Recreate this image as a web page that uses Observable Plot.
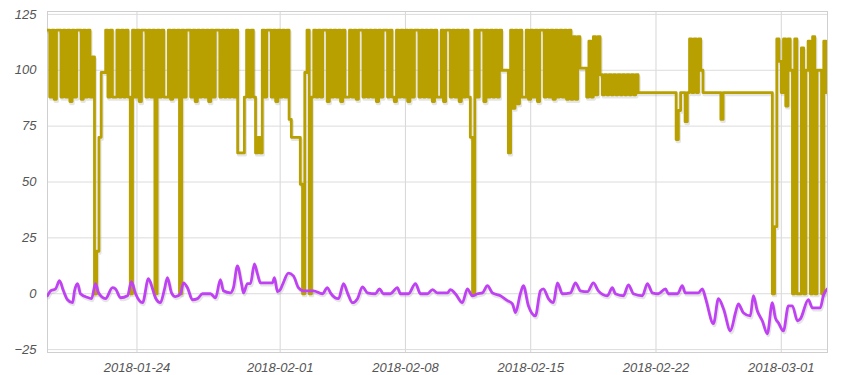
<!DOCTYPE html>
<html>
<head>
<meta charset="utf-8">
<script src="https://cdn.jsdelivr.net/npm/d3@7"></script>
<script src="https://cdn.jsdelivr.net/npm/@observablehq/plot@0.6"></script>
<style>
  html, body { margin: 0; padding: 0; background: #fff; }
</style>
</head>
<body>
<div id="chart"></div>
<script>
// ---- Data ----
const seriesStart = "2018-01-19T00:00:00";
const seriesEnd = "2018-03-03T14:00:00";
const goldStepHours = 3;

// Gold series: one row per day, 8 readings per day (every 3 hours)
const goldByDay = [
  [118,88,118,87,118,118,88,118],  // 01-19
  [88,118,86,118,88,118,118,87],   // 01-20
  [118,88,118,88,106,0,19,70],     // 01-21
  [99,99,118,88,118,88,88,118],    // 01-22
  [88,118,88,118,88,0,118,88],     // 01-23
  [118,86,118,118,88,118,88,118],  // 01-24
  [0,118,88,118,88,88,118,87],     // 01-25
  [118,88,118,0,118,88,118,118],   // 01-26
  [88,118,86,118,88,118,88,118],   // 01-27
  [86,118,88,118,118,88,118,88],   // 01-28
  [118,88,118,88,118,63,63,63],    // 01-29
  [88,118,88,118,88,63,70,63],     // 01-30
  [118,88,118,118,88,118,86,118],  // 01-31
  [88,118,88,118,78,70,70,70],     // 02-01
  [70,49,0,99,118,0,88,118],       // 02-02
  [88,118,88,118,118,86,118,88],   // 02-03
  [118,88,118,86,118,88,88,118],   // 02-04
  [88,118,87,118,118,88,118,88],   // 02-05
  [118,88,118,86,118,88,118,118],  // 02-06
  [88,118,88,86,118,88,118,88],    // 02-07
  [118,86,118,88,118,118,88,118],  // 02-08
  [88,118,88,118,86,118,88,88],    // 02-09
  [118,86,118,118,88,118,88,118],  // 02-10
  [86,118,88,118,88,70,0,118],     // 02-11
  [88,118,118,86,118,88,118,88],   // 02-12
  [118,88,118,100,100,100,63,118], // 02-13
  [83,118,85,118,88,88,118,87],    // 02-14
  [118,88,118,86,118,118,88,118],  // 02-15
  [88,118,87,118,88,118,88,118],   // 02-16
  [87,118,87,115,87,115,101,101],  // 02-17
  [101,88,113,88,115,89,115,98],   // 02-18
  [89,98,89,98,89,98,89,98],       // 02-19
  [89,98,89,98,89,98,89,98],       // 02-20
  [90,90,90,90,90,90,90,90],       // 02-21
  [90,90,90,90,90,90,90,90],       // 02-22
  [90,69,82,90,90,77,90,114],      // 02-23
  [90,114,90,114,100,90,90,90],    // 02-24
  [90,90,90,90,90,78,90,90],       // 02-25
  [90,90,90,90,90,90,90,90],       // 02-26
  [90,90,90,90,90,90,90,90],       // 02-27
  [90,90,90,90,0,30,114,104],      // 02-28
  [90,114,84,114,100,0,114,0],     // 03-01
  [0,110,0,100,113,0,115,0],       // 03-02
  [100,100,0,113,90,90]            // 03-03
];

// Purple series: day offset from 2018-01-19 and value
const purpleDay = [
  0.00,0.17,0.45,0.67,0.89,1.12,1.40,1.51,1.68,1.84,2.29,2.46,2.68,2.85,3.24,3.63,3.80,4.08,4.47,4.69,
  4.92,5.31,5.64,5.87,6.03,6.31,6.54,6.70,6.93,7.15,7.43,7.60,7.82,8.10,8.38,8.66,9.11,9.39,9.66,9.83,
  10.22,10.39,10.61,10.84,10.95,11.17,11.34,11.56,11.73,11.90,12.57,12.68,12.85,13.02,13.18,13.46,13.74,14.02,14.30,14.86,
  15.36,15.64,15.81,16.26,16.54,16.76,17.04,17.32,17.60,17.88,18.32,18.55,18.77,19.16,19.55,19.72,20.17,20.56,20.84,21.23,
  21.51,21.79,22.35,22.51,22.79,23.18,23.46,23.74,24.02,24.30,24.58,24.86,25.31,25.70,25.98,26.15,26.42,26.59,26.87,27.26,
  27.54,27.71,27.99,28.27,28.49,28.77,29.22,29.50,29.78,30.17,30.50,30.78,31.28,31.56,31.73,32.18,32.46,32.74,33.24,33.52,
  33.80,34.13,34.53,34.69,35.20,35.47,35.64,36.37,36.59,36.76,37.21,37.49,37.77,38.16,38.44,38.60,38.88,39.27,39.44,39.66,
  39.94,40.22,40.50,40.67,40.84,41.12,41.40,41.62,41.90,42.07,42.51,42.74,43.18,43.35,43.58
];
const purpleValue = [
  -0.9,1.3,2.2,5.8,1.3,-2.7,-4.0,1.3,4.5,0.0,-1.8,-2.2,4.5,0.4,-2.2,2.7,2.2,-1.8,-0.9,5.4,
  0.0,-4.0,6.7,2.2,-1.8,-4.0,2.2,7.2,0.4,-1.3,0.0,4.9,2.7,-2.7,-2.2,0.0,0.0,-1.8,6.3,1.3,
  0.4,2.7,12.5,4.5,0.4,4.5,4.5,13.4,8.9,4.9,4.9,7.2,0.9,2.0,5.0,9.2,8.0,2.7,1.3,1.3,
  0.0,2.7,0.4,-2.2,4.5,0.4,-4.0,-2.2,3.1,0.4,0.0,2.2,0.0,0.0,2.7,0.0,0.0,4.5,0.0,0.0,
  1.8,0.4,0.4,1.8,0.0,-4.0,2.2,-0.9,0.0,0.4,3.6,0.4,-0.9,-3.1,-4.5,-8.5,0.0,3.6,-5.4,-9.9,
  1.3,2.2,-2.2,-4.0,4.9,0.0,0.4,4.9,1.3,0.9,4.9,1.3,-0.9,2.7,0.0,-0.9,4.0,0.0,-0.9,4.5,
  0.4,0.0,2.2,0.0,0.0,3.6,0.4,0.4,2.2,-1.8,-13.4,-2.2,-6.7,-16.6,-8.5,-4.5,-8.5,-9.9,-0.9,-7.6,
  -12.1,-17.9,-4.0,-10.8,-13.0,-16.6,-5.4,-5.4,-12.1,-11.2,-2.7,-6.3,-6.3,-0.9,2.2
];

const xTickLabels = ["2018-01-24","2018-02-01","2018-02-08","2018-02-15","2018-02-22","2018-03-01"];
const yTickValues = [-25, 0, 25, 50, 75, 100, 125];

const goldColor = "#b8a000";
const purpleColor = "#c040f4";

// ---- Build tables ----
const t0 = new Date(seriesStart).getTime();
const gold = goldByDay.flat().map((v, i) => ({date: new Date(t0 + i * goldStepHours * 3600e3), value: v}));
const purple = purpleDay.map((d, i) => ({date: new Date(t0 + d * 864e5), value: purpleValue[i]}));
const xTicks = xTickLabels.map(s => new Date(s + "T00:00:00"));

const chart = Plot.plot({
  width: 850,
  height: 375,
  marginLeft: 47,
  marginRight: 23,
  marginTop: 11,
  marginBottom: 23,
  style: {
    fontFamily: "'Liberation Sans', Arial, sans-serif",
    fontSize: "13px",
    fontStyle: "italic",
    color: "#555",
    background: "#fff"
  },
  x: {type: "time", domain: [new Date(seriesStart), new Date(seriesEnd)]},
  y: {domain: [-26.3, 126.3]},
  marks: [
    Plot.gridX(xTicks, {stroke: "#d6d6d6", strokeOpacity: 1}),
    Plot.gridY(yTickValues, {stroke: "#dcdcdc", strokeOpacity: 1}),
    Plot.frame({stroke: "#cfcfcf"}),
    Plot.axisX(xTicks, {tickSize: 0, tickPadding: 10, tickFormat: d3.timeFormat("%Y-%m-%d"), label: null, fill: "#555"}),
    Plot.axisY(yTickValues, {tickSize: 0, tickPadding: 11, label: null, fill: "#555"}),
    // soft shadows
    Plot.line(gold, {x: "date", y: "value", curve: "step-after", stroke: "#888", strokeOpacity: 0.22, strokeWidth: 3.2, dx: 1, dy: 2, clip: true}),
    Plot.line(purple, {x: "date", y: "value", curve: "monotone-x", stroke: "#888", strokeOpacity: 0.22, strokeWidth: 3.2, dx: 1, dy: 2, clip: true}),
    // series
    Plot.line(gold, {x: "date", y: "value", curve: "step-after", stroke: goldColor, strokeWidth: 2.8, clip: true}),
    Plot.line(purple, {x: "date", y: "value", curve: "monotone-x", stroke: purpleColor, strokeWidth: 2.8, clip: true})
  ]
});
document.getElementById("chart").appendChild(chart);
</script>
</body>
</html>
